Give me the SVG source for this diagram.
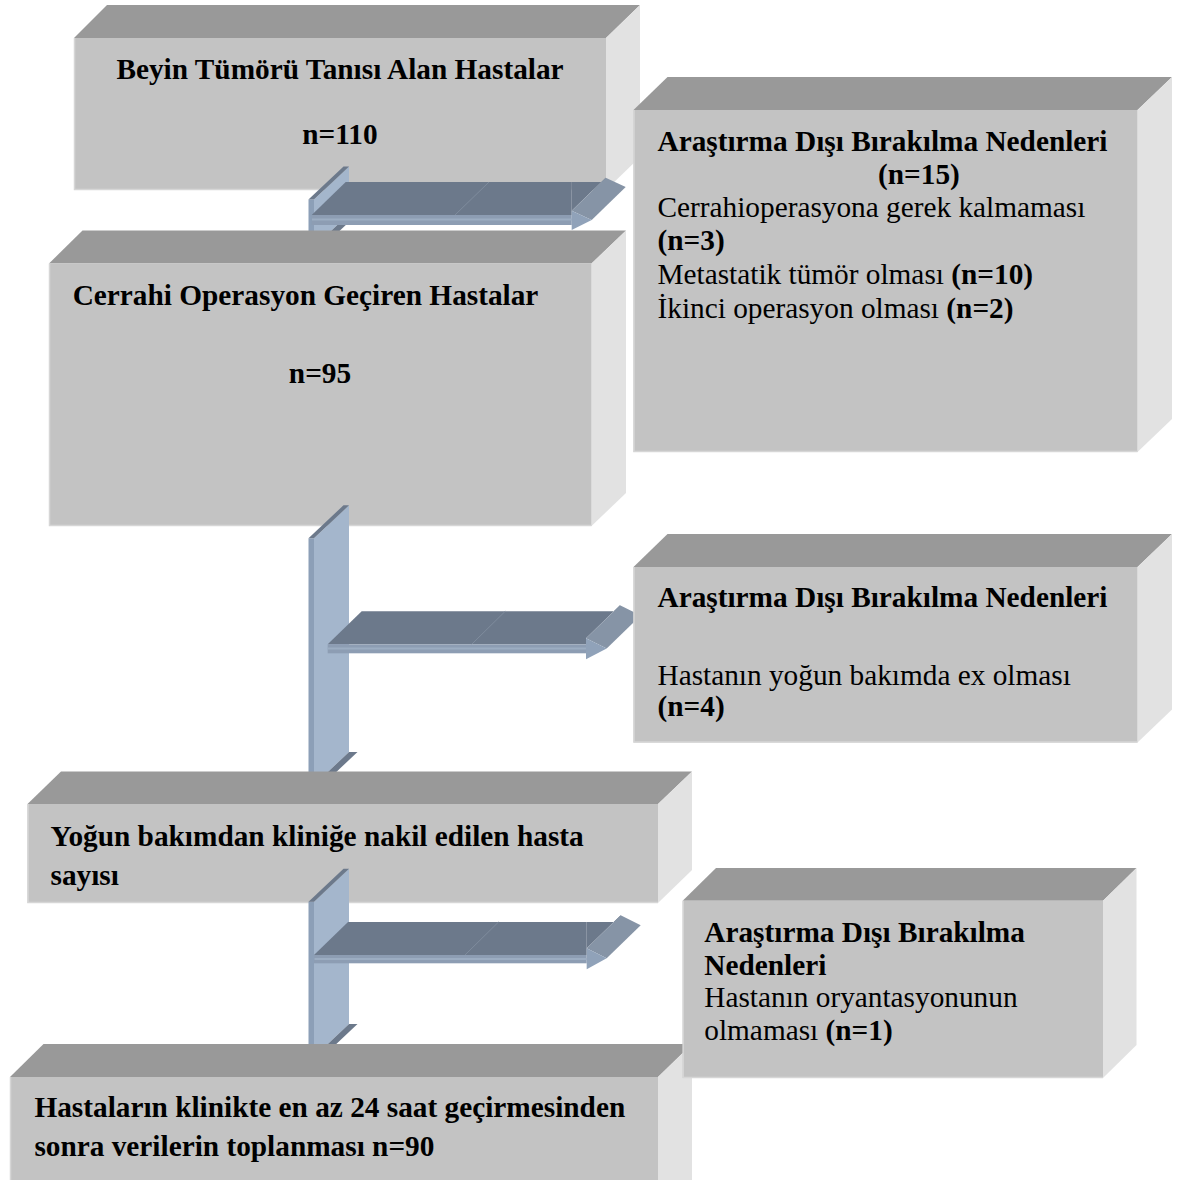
<svg xmlns="http://www.w3.org/2000/svg" width="1183" height="1180" viewBox="0 0 1183 1180">
<style>
.top{fill:#999999}
.front{fill:#c3c3c3}
.side{fill:#e2e2e2}
.edge{fill:none;stroke:#d6d6d6;stroke-width:1.5}
text{font-family:"Liberation Serif","Times New Roman",serif;font-size:29.3px;fill:#000}
.b{font-weight:bold}
.mid{text-anchor:middle}
.vf{fill:#8c9fb7}
.vs{fill:#a4b6cc}
.dk{fill:#6c798b}
.sl{fill:#8694a6}
.hf{fill:#8d9db3}
.hh{fill:#90a2b9}
.hl{stroke:#9cadc2;stroke-width:2;fill:none}
.seam{stroke:#7f8c9d;stroke-width:1;fill:none}
</style>
<rect x="0" y="0" width="1183" height="1180" fill="#ffffff"/>

<g id="box1">
<polygon class="top" points="74,38 107,5 640,5 606,38"/>
<polygon class="side" points="606,38 640,5 640,157 606,190"/>
<rect class="front" x="74" y="38" width="532" height="152"/>
<polyline class="edge" points="74.5,38 74.5,189.5 606,189.5"/>
<text class="b mid" x="340" y="79">Beyin Tümörü Tanısı Alan Hastalar</text>
<text class="b mid" x="340" y="144">n=110</text>
</g>

<g id="connectors1">
<polygon class="vs" points="314,199.5 349,166.5 349,214 314,247"/>
<rect class="vf" x="308.5" y="199.5" width="5.5" height="48"/>
<polygon class="dk" points="308.5,199.5 314,199.5 349,166.5 343.5,166.5"/>
<polygon class="dk" points="314,247 322.5,247 357.5,214 349,214"/>
<polygon class="dk" points="311.7,215 345.7,182 571.7,182 571.7,215"/>
<polygon class="dk" points="571.7,215 571.7,210.7 605.7,177.7 605.7,182 571.7,182"/>
<line class="seam" x1="455" y1="215" x2="489" y2="182"/>
<polygon class="sl" points="571.7,210.7 591.7,220 625.7,187 605.7,177.7"/>
<rect class="hf" x="311.7" y="215" width="260" height="10"/>
<line class="hl" x1="312" y1="219.5" x2="571.7" y2="219.5"/>
<polygon class="hh" points="571.7,210.7 591.7,220 571.7,230"/>
</g>

<g id="box2">
<polygon class="top" points="633.5,110 667.5,77 1172,77 1137.5,110"/>
<polygon class="side" points="1137.5,110 1172,77 1172,419 1137.5,452"/>
<rect class="front" x="633.5" y="110" width="504" height="342"/>
<polyline class="edge" points="634,110 634,451.5 1137.5,451.5"/>
<text class="b" x="657.5" y="150.7">Araştırma Dışı Bırakılma Nedenleri</text>
<text class="b" x="878" y="184">(n=15)</text>
<text x="657.5" y="217">Cerrahioperasyona gerek kalmaması</text>
<text class="b" x="657.5" y="250">(n=3)</text>
<text x="657.5" y="284">Metastatik tümör olması <tspan class="b">(n=10)</tspan></text>
<text x="657.5" y="318">İkinci operasyon olması <tspan class="b">(n=2)</tspan></text>
</g>

<g id="box3">
<polygon class="top" points="49,263.5 82.5,230.5 626,230.5 591.5,263.5"/>
<polygon class="side" points="591.5,263.5 626,230.5 626,493 591.5,526"/>
<rect class="front" x="49" y="263.5" width="542.5" height="262.5"/>
<polyline class="edge" points="49.5,263.5 49.5,525.5 591.5,525.5"/>
<text class="b" x="72.7" y="305">Cerrahi Operasyon Geçiren Hastalar</text>
<text class="b mid" x="320" y="383">n=95</text>
</g>

<g id="connectors2">
<polygon class="vs" points="314,538.3 349,505.3 349,752 314,785"/>
<rect class="vf" x="308.5" y="538.3" width="5.5" height="246.7"/>
<polygon class="dk" points="308.5,538.3 314,538.3 349,505.3 343.5,505.3"/>
<polygon class="dk" points="314,785 322.5,785 357.5,752 349,752"/>
<polygon class="dk" points="327.7,644.3 361.7,611.3 586,611.3 586,644.3"/>
<polygon class="dk" points="586,644.3 586,638.3 620,605.3 620,611.3 586,611.3"/>
<line class="seam" x1="471.7" y1="644.3" x2="505.2" y2="611.3"/>
<polygon class="sl" points="586,638.3 606.7,648.5 640.7,615.5 620,605.3"/>
<rect class="hf" x="327.7" y="644.3" width="258.3" height="9"/>
<line class="hl" x1="328" y1="648.5" x2="586" y2="648.5"/>
<polygon class="hh" points="586,638.3 606.7,648.5 586,659.3"/>
</g>

<g id="box4">
<polygon class="top" points="633.5,567 667.5,534 1172,534 1137.5,567"/>
<polygon class="side" points="1137.5,567 1172,534 1172,709.5 1137.5,742.5"/>
<rect class="front" x="633.5" y="567" width="504" height="175.5"/>
<polyline class="edge" points="634,567 634,742 1137.5,742"/>
<text class="b" x="657.5" y="607.3">Araştırma Dışı Bırakılma Nedenleri</text>
<text x="657.5" y="685">Hastanın yoğun bakımda ex olması</text>
<text class="b" x="657.5" y="716">(n=4)</text>
</g>

<g id="box5">
<polygon class="top" points="27.5,804 61,771.5 692,771.5 658,804"/>
<polygon class="side" points="658,804 692,771.5 692,870 658,903"/>
<rect class="front" x="27.5" y="804" width="630.5" height="99"/>
<polyline class="edge" points="28,804 28,902.5 658,902.5"/>
<text class="b" x="50.5" y="846">Yoğun bakımdan kliniğe nakil edilen hasta</text>
<text class="b" x="50.5" y="885">sayısı</text>
</g>

<g id="connectors3">
<polygon class="vs" points="314,901.7 349,868.7 349,1024 314,1057"/>
<rect class="vf" x="308.5" y="901.7" width="5.5" height="155.3"/>
<polygon class="dk" points="308.5,901.7 314,901.7 349,868.7 343.5,868.7"/>
<polygon class="dk" points="314,1057 322.5,1057 357.5,1024 349,1024"/>
<polygon class="dk" points="314,955 348,922 586.7,922 586.7,955"/>
<polygon class="dk" points="586.7,955 586.7,948.3 620.7,915.3 620.7,922 586.7,922"/>
<line class="seam" x1="465" y1="955" x2="498.5" y2="922"/>
<polygon class="sl" points="586.7,948.3 606.7,958.3 640.7,925.3 620.7,915.3"/>
<rect class="hf" x="314" y="955" width="272.7" height="8.3"/>
<line class="hl" x1="314.5" y1="959" x2="586.7" y2="959"/>
<polygon class="hh" points="586.7,948.3 606.7,958.3 586.7,969.3"/>
</g>

<g id="box7">
<polygon class="top" points="10,1077 43.5,1044 692,1044 658,1077"/>
<polygon class="side" points="658,1077 692,1044 692,1180 658,1180"/>
<rect class="front" x="10" y="1077" width="648" height="103"/>
<polyline class="edge" points="10.5,1077 10.5,1180"/>
<text class="b" x="34.4" y="1117">Hastaların klinikte en az 24 saat geçirmesinden</text>
<text class="b" x="34.4" y="1156">sonra verilerin toplanması n=90</text>
</g>

<g id="box6">
<polygon class="top" points="682.7,900.7 716,868 1136.5,868 1103,900.7"/>
<polygon class="side" points="1103,900.7 1136.5,868 1136.5,1045 1103,1078"/>
<rect class="front" x="682.7" y="900.7" width="420.3" height="177.3"/>
<polyline class="edge" points="683.2,900.7 683.2,1077.5 1103,1077.5"/>
<text class="b" x="704.3" y="941.7">Araştırma Dışı Bırakılma</text>
<text class="b" x="704.3" y="975">Nedenleri</text>
<text x="704.3" y="1006.7">Hastanın oryantasyonunun</text>
<text x="704.3" y="1040">olmaması <tspan class="b">(n=1)</tspan></text>
</g>
</svg>
